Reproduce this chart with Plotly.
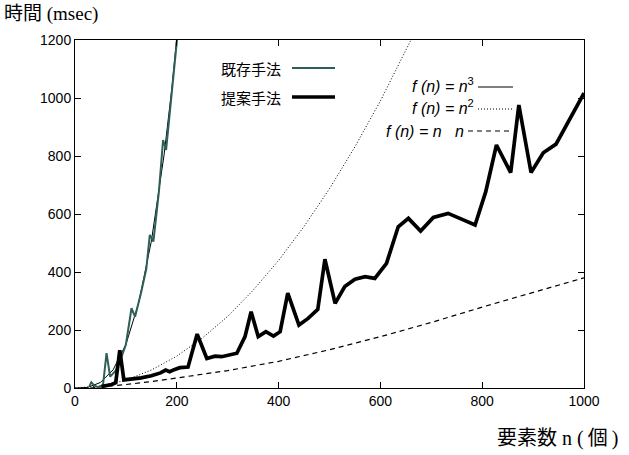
import plotly.graph_objects as go

# 提案手法 (proposed method) measured data
prop_n = [52, 62, 72, 80, 88, 96, 110, 130, 150, 168, 178, 186, 196, 206, 222, 240,
          259, 275, 288, 318, 334, 346, 360, 375, 390, 403, 418, 440, 458, 477, 491,
          511, 530, 550, 570, 589, 612, 635, 655, 679, 704, 733, 756, 786, 807, 828,
          856, 872, 896, 920, 945, 1000]
prop_v = [5, 8, 12, 18, 130, 28, 30, 35, 42, 52, 62, 56, 64, 70, 72, 186,
          102, 110, 108, 120, 177, 263, 177, 194, 179, 194, 327, 217, 240, 271, 444,
          292, 350, 375, 384, 378, 430, 556, 585, 541, 588, 602, 585, 562, 677, 838,
          743, 976, 743, 811, 841, 1017]

# 既存手法 (existing method) measured data
exist_n = [28, 32, 38, 45, 55, 62, 69, 80, 90, 100, 111, 118, 130, 140, 147, 154,
           165, 173, 179, 190, 200, 206]
exist_v = [5, 20, 8, 3, 10, 120, 39, 60, 100, 150, 275, 246, 330, 410, 528, 505,
           680, 855, 821, 1010, 1192, 1300]

# fitted curves
cubic_n = [0, 25, 50, 75, 100, 125, 150, 175, 190, 201, 210]
cubic_v = [0, 2, 19, 63, 150, 293, 506, 804, 1029, 1200, 1390]

quad_n = [0, 50, 100, 150, 200, 250, 300, 350, 400, 450, 500, 550, 600, 650, 660, 680]
quad_v = [0, 7, 27, 62, 110, 172, 247, 337, 440, 557, 687, 832, 990, 1162, 1198, 1270]

nlogn_n = [30, 50, 100, 150, 200, 250, 300, 400, 500, 600, 700, 800, 900, 1000]
nlogn_v = [0, 3, 12, 22, 34, 46, 60, 92, 132, 177, 226, 279, 330, 380]

x_ticks = [0, 200, 400, 600, 800, 1000]
y_ticks = [0, 200, 400, 600, 800, 1000, 1200]

TEAL = "#2e5e58"
DOT = "1px,2px"
DASH = "5px,4px"

fig = go.Figure()
fig.add_trace(go.Scatter(x=cubic_n, y=cubic_v, mode="lines",
                         line=dict(color="black", width=1), showlegend=False))
fig.add_trace(go.Scatter(x=quad_n, y=quad_v, mode="lines",
                         line=dict(color="black", width=1, dash=DOT), showlegend=False))
fig.add_trace(go.Scatter(x=nlogn_n, y=nlogn_v, mode="lines",
                         line=dict(color="black", width=1.2, dash=DASH), showlegend=False))
fig.add_trace(go.Scatter(x=exist_n, y=exist_v, mode="lines",
                         line=dict(color=TEAL, width=2), showlegend=False))
fig.add_trace(go.Scatter(x=prop_n, y=prop_v, mode="lines",
                         line=dict(color="black", width=3.7), showlegend=False))

axis_common = dict(showgrid=False, zeroline=False, showline=True, linecolor="black",
                   linewidth=1, mirror="ticks", ticks="inside", ticklen=6,
                   tickcolor="black", tickfont=dict(family="Liberation Sans", size=14, color="black"))

fig.update_xaxes(range=[0, 1000], tickvals=x_ticks, **axis_common)
fig.update_yaxes(range=[0, 1200], tickvals=y_ticks, **axis_common)

def px_x(p):
    return (p - 75) / 509.0

def px_y(p):
    return (388 - p) / 348.0

annotations = [
    dict(text="時間 (msec)", x=px_x(2), y=px_y(1), xref="paper", yref="paper",
         xanchor="left", yanchor="top", showarrow=False,
         font=dict(family="Liberation Serif, Noto Sans CJK JP", size=19, color="black")),
    dict(text="要素数 n (\u2009個\u2009)", x=px_x(620), y=px_y(452), xref="paper", yref="paper",
         xanchor="right", yanchor="bottom", showarrow=False,
         font=dict(family="Liberation Serif, Noto Sans CJK JP", size=20, color="black")),
]
# legend texts
leg = [
    ("既存手法", 283, 68, "Noto Sans CJK JP", 15),
    ("提案手法", 283, 97, "Noto Sans CJK JP", 15),
    ("<i>f (n) = n</i><sup>3</sup>", 476, 85, "Liberation Sans", 16),
    ("<i>f (n) = n</i><sup>2</sup>", 476, 107, "Liberation Sans", 16),
    ("<i>f (n) = n\u00a0\u00a0\u00a0n</i>", 466, 131, "Liberation Sans", 16),
]
for t, xr, yc, fam, sz in leg:
    annotations.append(dict(text=t, x=px_x(xr), y=px_y(yc), xref="paper", yref="paper",
                            xanchor="right", yanchor="middle", showarrow=False,
                            font=dict(family=fam, size=sz, color="black")))

shapes = [
    dict(type="line", xref="paper", yref="paper", x0=px_x(292), x1=px_x(335), y0=px_y(68), y1=px_y(68),
         line=dict(color=TEAL, width=2)),
    dict(type="line", xref="paper", yref="paper", x0=px_x(292), x1=px_x(335), y0=px_y(97), y1=px_y(97),
         line=dict(color="black", width=3.7)),
    dict(type="line", xref="paper", yref="paper", x0=px_x(478), x1=px_x(513), y0=px_y(87), y1=px_y(87),
         line=dict(color="black", width=1)),
    dict(type="line", xref="paper", yref="paper", x0=px_x(478), x1=px_x(513), y0=px_y(109), y1=px_y(109),
         line=dict(color="black", width=1, dash=DOT)),
    dict(type="line", xref="paper", yref="paper", x0=px_x(468), x1=px_x(513), y0=px_y(131), y1=px_y(131),
         line=dict(color="black", width=1.2, dash=DASH)),
]

fig.update_layout(width=629, height=455, margin=dict(l=75, r=45, t=40, b=67),
                  plot_bgcolor="white", paper_bgcolor="white",
                  annotations=annotations, shapes=shapes, showlegend=False)

fig.write_html("out.html", config={"displayModeBar": False},
               post_script="document.body.style.margin='0px';document.body.style.overflow='hidden';")
